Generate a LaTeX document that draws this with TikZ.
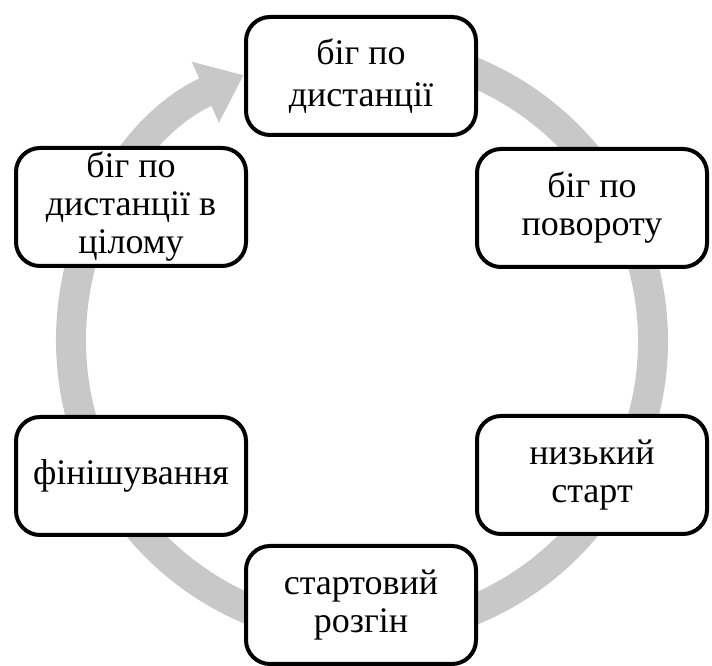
\documentclass[tikz,border=0pt]{standalone}
\usepackage{fontspec}
\setmainfont{Liberation Serif}
\usetikzlibrary{arrows.meta}
\definecolor{ringgray}{RGB}{200,200,200}
\tikzset{
  stagebox/.style={draw=black, line width=4pt, fill=white, rounded corners=24pt,
    minimum width=230pt, minimum height=118pt, align=center, inner sep=3pt,
    font=\fontsize{36}{38}\selectfont},
  ring/.style={draw=ringgray, line width=30pt,
    -{Triangle[width=64pt,length=42pt]}}
}
\begin{document}
\begin{tikzpicture}[x=1pt,y=1pt]
\useasboundingbox (0,0) rectangle (712,666);
\coordinate (c) at (362,325);
\draw[ring] (c) ++(95:291) arc[start angle=95, end angle=-246, radius=291];
\node[stagebox, font=\fontsize{36}{42}\selectfont] (top) at (361,590) {біг по\\дистанції};
\node[stagebox] (ru) at (592,458) {біг по\\повороту};
\node[stagebox] (rl) at (592,191) {низький\\старт};
\node[stagebox] (bot) at (361,61) {стартовий\\розгін};
\node[stagebox] (ll) at (131,190) {фінішування};
\node[stagebox] (lu) at (131,459) {біг по\\дистанції в\\цілому};
\end{tikzpicture}
\end{document}
